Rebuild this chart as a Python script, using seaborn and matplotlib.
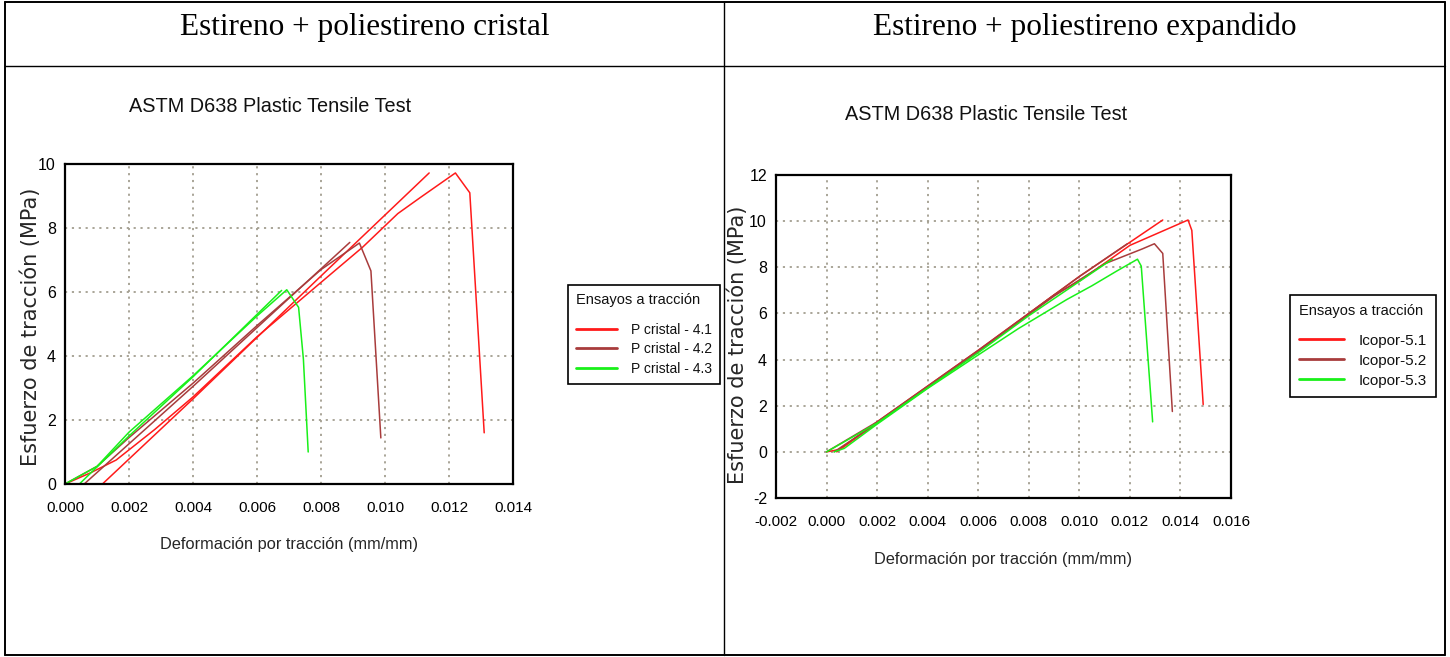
import pandas as pd
import matplotlib
matplotlib.use("Agg")
import matplotlib.pyplot as plt
from matplotlib.lines import Line2D
from matplotlib.ticker import MultipleLocator, FormatStrFormatter
import seaborn as sns

# Estireno + poliestireno cristal (deformación mm/mm, esfuerzo MPa)
# cada ensayo tiene dos tramos: recta de carga (a) y curva completa (b)
p41_a_x = [0.00117, 0.0040, 0.0080, 0.01138]
p41_a_y = [0.0, 2.66, 6.50, 9.72]
p41_b_x = [0.0, 0.0008, 0.0016, 0.0028, 0.0040, 0.0060, 0.0080, 0.0093, 0.0104, 0.0111, 0.0122, 0.01265, 0.0131]
p41_b_y = [0.0, 0.35, 0.75, 1.70, 2.72, 4.60, 6.30, 7.40, 8.45, 8.95, 9.72, 9.10, 1.60]
p42_a_x = [0.0006, 0.0040, 0.0089]
p42_a_y = [0.0, 3.05, 7.55]
p42_b_x = [0.0, 0.0010, 0.0020, 0.0040, 0.0060, 0.0080, 0.0092, 0.00956, 0.00987]
p42_b_y = [0.0, 0.55, 1.45, 3.15, 4.95, 6.70, 7.53, 6.66, 1.44]
p43_a_x = [0.00045, 0.0020, 0.0040, 0.00677]
p43_a_y = [0.0, 1.50, 3.35, 6.05]
p43_b_x = [0.0, 0.0010, 0.0020, 0.0040, 0.0060, 0.00693, 0.0073, 0.00745, 0.0076]
p43_b_y = [0.0, 0.55, 1.62, 3.38, 5.25, 6.07, 5.52, 3.90, 1.00]

# Estireno + poliestireno expandido
i51_a_x = [0.0, 0.0005, 0.0020, 0.0060, 0.0100, 0.0133]
i51_a_y = [0.0, 0.10, 1.30, 4.40, 7.60, 10.05]
i51_b_x = [0.0004, 0.0020, 0.0060, 0.0090, 0.0100, 0.0120, 0.0143, 0.01445, 0.0149]
i51_b_y = [0.0, 1.25, 4.35, 6.80, 7.40, 8.95, 10.05, 9.60, 2.05]
i52_a_x = [0.0, 0.0020, 0.0060, 0.0100, 0.0119]
i52_a_y = [0.0, 1.30, 4.40, 7.60, 9.02]
i52_b_x = [0.0003, 0.0020, 0.0060, 0.0090, 0.0110, 0.0125, 0.01297, 0.0133, 0.01368]
i52_b_y = [0.0, 1.25, 4.35, 6.75, 8.15, 8.80, 9.02, 8.60, 1.75]
i53_a_x = [0.0, 0.0020, 0.0060, 0.0080, 0.0113]
i53_a_y = [0.0, 1.25, 4.30, 5.90, 8.35]
i53_b_x = [0.0003, 0.0007, 0.0020, 0.0040, 0.0060, 0.0076, 0.0095, 0.0105, 0.0115, 0.0123, 0.01245, 0.0129]
i53_b_y = [0.0, 0.15, 1.20, 2.75, 4.20, 5.35, 6.60, 7.20, 7.85, 8.35, 8.05, 1.30]

ensayos_cristal = ["P cristal - 4.1", "P cristal - 4.2", "P cristal - 4.3"]
ensayos_icopor = ["Icopor-5.1", "Icopor-5.2", "Icopor-5.3"]
colores = ["#ff1a1a", "#a83c3c", "#19f019"]


def armar(nombres, tramos):
    filas = []
    for nombre, partes in zip(nombres, tramos):
        for k, (xs, ys) in enumerate(partes):
            for x, y in zip(xs, ys):
                filas.append({"ensayo": nombre, "tramo": f"{nombre}-{k}", "def": x, "esf": y})
    return pd.DataFrame(filas)


df_cristal = armar(ensayos_cristal, [
    [(p41_a_x, p41_a_y), (p41_b_x, p41_b_y)],
    [(p42_a_x, p42_a_y), (p42_b_x, p42_b_y)],
    [(p43_a_x, p43_a_y), (p43_b_x, p43_b_y)],
])
df_icopor = armar(ensayos_icopor, [
    [(i51_a_x, i51_a_y), (i51_b_x, i51_b_y)],
    [(i52_a_x, i52_a_y), (i52_b_x, i52_b_y)],
    [(i53_a_x, i53_a_y), (i53_b_x, i53_b_y)],
])

sns.set_style("white")
narrow = ["Liberation Sans", "DejaVu Sans"]
plt.rcParams["font.family"] = ["DejaVu Sans"]
plt.rcParams["text.color"] = "#111111"
plt.rcParams["axes.unicode_minus"] = False

fig = plt.figure(figsize=(14.5, 6.57), dpi=100)
W, H = 1450.0, 657.0

# tabla
def linea(x0, y0, x1, y1, lw):
    fig.add_artist(Line2D([x0 / W, x1 / W], [1 - y0 / H, 1 - y1 / H], color="black", lw=lw))

linea(5, 2, 1445, 2, 1.4)
linea(5, 655, 1445, 655, 1.4)
linea(5, 2, 5, 655, 1.4)
linea(1445, 2, 1445, 655, 1.4)
linea(5, 66, 1445, 66, 1.0)
linea(724, 2, 724, 655, 1.0)
fig.text(364.5 / W, 1 - 27 / H, "Estireno + poliestireno cristal", family="Liberation Serif",
         fontsize=22.5, ha="center", va="center", color="black")
fig.text(1084.5 / W, 1 - 27 / H, "Estireno + poliestireno expandido", family="Liberation Serif",
         fontsize=22.5, ha="center", va="center", color="black")

ax1 = fig.add_axes([65 / W, 1 - 484 / H, 448 / W, 320 / H])
ax2 = fig.add_axes([776 / W, 1 - 498 / H, 455 / W, 323 / H])

paneles = [
    (ax1, df_cristal, (0, 0.014), (0, 10), (270, 106), (1.123, 0.622), 10, 10.5, -0.076, 0.49),
    (ax2, df_icopor, (-0.002, 0.016), (-2, 12), (986, 114), (1.13, 0.628), 11, 10.5, -0.083, 0.475),
]

for ax, df, xl, yl, tpos, lpos, lfs, tfs, yx, yy in paneles:
    sns.lineplot(data=df, x="def", y="esf", hue="ensayo", units="tramo", estimator=None,
                 sort=False, palette=colores, linewidth=1.1, ax=ax)
    ax.set_xlim(*xl)
    ax.set_ylim(*yl)
    ax.xaxis.set_major_locator(MultipleLocator(0.002))
    ax.xaxis.set_minor_locator(MultipleLocator(0.001))
    ax.xaxis.set_major_formatter(FormatStrFormatter("%.3f"))
    ax.yaxis.set_major_locator(MultipleLocator(2))
    ax.yaxis.set_minor_locator(MultipleLocator(1))
    ax.grid(True, which="major", color="#a39e90", linestyle=(0, (1.2, 2.6)), linewidth=1.3)
    for s in ax.spines.values():
        s.set_linewidth(1.6)
        s.set_color("black")
    ax.tick_params(axis="x", which="both", direction="out", length=5, width=1.4, pad=7,
                   labelsize=11, colors="black")
    ax.tick_params(axis="y", which="both", direction="inout", length=7, width=1.4, pad=3,
                   labelsize=11.5, colors="black")
    for t in ax.get_xticklabels() + ax.get_yticklabels():
        t.set_family(narrow)
    ax.set_xlabel("Deformación por tracción (mm/mm)", family=narrow, fontsize=11.8, va="center")
    ax.xaxis.set_label_coords(0.5, -0.19)
    ax.set_ylabel("Esfuerzo de tracción (MPa)", fontsize=15, va="center")
    ax.yaxis.set_label_coords(yx, yy)
    fig.text(tpos[0] / W, 1 - tpos[1] / H, "ASTM D638 Plastic Tensile Test", family=narrow,
             fontsize=14.3, ha="center", va="center")
    sns.move_legend(ax, loc="upper left", bbox_to_anchor=lpos, borderaxespad=0,
                    title="Ensayos a tracción", frameon=True, fancybox=False,
                    edgecolor="black", framealpha=1, handlelength=2.9, handletextpad=1.0,
                    labelspacing=0.4, borderpad=0.6, alignment="left",
                    prop={"family": narrow, "size": lfs},
                    title_fontproperties={"family": narrow, "size": tfs})
    leg = ax.get_legend()
    leg.get_frame().set_linewidth(1.2)
    leg._legend_box.sep = 11
    for ln in leg.get_lines():
        ln.set_linewidth(2)

fig.savefig("out.png", dpi=100, facecolor="white")
